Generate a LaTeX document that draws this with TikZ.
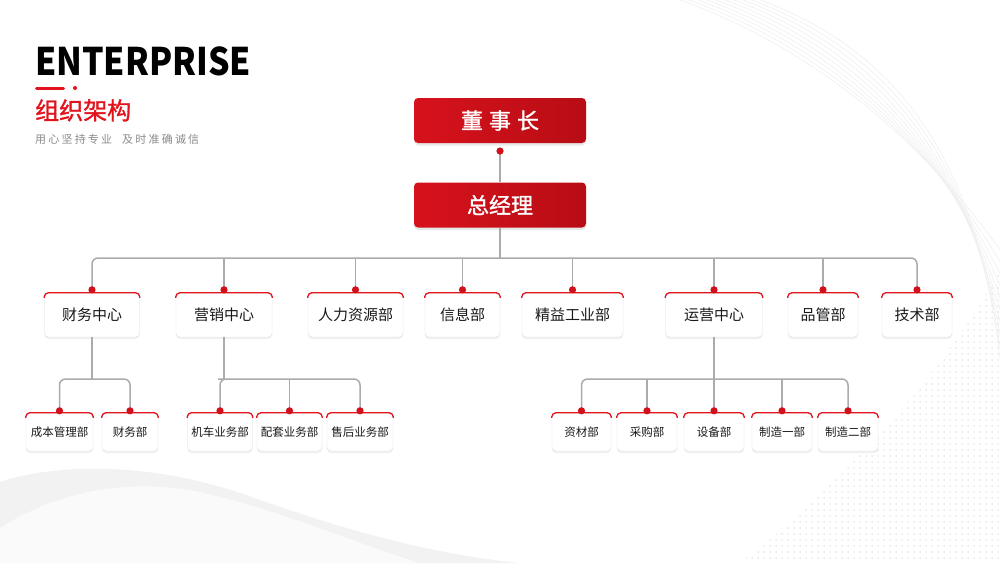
\documentclass[tikz,border=0pt]{standalone}
\usepackage{fontspec}
\setmainfont{Noto Sans CJK SC}
\newfontfamily\cjk{Noto Sans CJK SC}
\newfontfamily\cjkmed[FakeBold=1.2]{Noto Sans CJK SC}
\newfontfamily\cjkls[LetterSpace=20]{Noto Sans CJK SC}
\usetikzlibrary{shadows}
\definecolor{cred}{HTML}{D6121C}
\definecolor{cred2}{HTML}{B80D15}
\definecolor{tred}{HTML}{E1141D}
\definecolor{dred}{HTML}{D0101A}
\definecolor{lgray}{HTML}{ABABAB}
\definecolor{subg}{HTML}{8A8A8A}
\newcommand{\rtop}[1]{\draw[tred, line width=1.3pt, rounded corners=4pt] ([yshift=-5pt]#1.north west) -- (#1.north west) -- (#1.north east) -- ([yshift=-5pt]#1.north east);}
\newcommand{\rdot}[2]{\fill[dred] ([yshift=#2]#1.north) circle (3.6pt);}
\begin{document}
\begin{tikzpicture}[x=1pt,y=-1pt,
  conn/.style={draw=lgray, line width=1.5pt},
  topbox/.style={rounded corners=4pt, left color=cred, right color=cred2, minimum width=172pt, minimum height=45pt, text=white, inner sep=0,
    drop shadow={opacity=0.18, shadow xshift=0pt, shadow yshift=-2.5pt}},
  ubox/.style={rounded corners=4pt, fill=white, draw=black!10, line width=0.4pt, inner sep=0, text=black!90,
    drop shadow={opacity=0.12, shadow xshift=0pt, shadow yshift=-2pt}},
  lvtwo/.style={ubox, minimum height=44pt, font=\cjk\fontsize{15}{15}\selectfont},
  lvthree/.style={ubox, minimum height=38pt, font=\cjk\fontsize{11.5}{11.5}\selectfont}
]
\useasboundingbox (0,0) rectangle (1000,563);
\fill[white] (0,0) rectangle (1000,563);
% background decoration
\fill[black!5] (0,563) -- (0,482) .. controls (60,462) and (160,462) .. (260,500) .. controls (360,535) and (440,555) .. (520,563) -- cycle;
\fill[black!2] (0,563) -- (0,528) .. controls (60,490) and (130,478) .. (200,492) .. controls (280,510) and (360,545) .. (420,563) -- cycle;
\foreach \k in {0,...,9}{
  \draw[black!6, line width=0.6pt] (680+\k*9,0) .. controls (820+\k*8,50) and (930+\k*5,150) .. (1000,250+\k*12);
}
\begin{scope}
\clip (740,563) .. controls (860,470) and (950,360) .. (1000,270) -- (1000,563) -- cycle;
\foreach \i in {0,...,43}{
  \foreach \j in {0,...,49}{
    \fill[black!9] (740+\i*6,270+\j*6) circle (1pt);
  }
}
\end{scope}
% title
\node[anchor=base west, inner sep=0] (ent) at (35,75.5) {\scalebox{0.89}[1]{\fontsize{38}{38}\selectfont\bfseries ENTERPRISE}};
\draw[tred, line width=3pt, line cap=round] (36.5,88) -- (63.5,88);
\fill[tred] (75,88) circle (2pt);
\node[anchor=base west, inner sep=0, text=tred, font=\cjkmed\fontsize{24}{24}\selectfont] (ttl) at (35,119.5) {组织架构};
\node[anchor=base west, inner sep=0, text=subg, font=\cjkls\fontsize{11}{11}\selectfont] (sub) at (35,143.5) {用心坚持专业\hspace{10pt}及时准确诚信};
% top boxes
\node[topbox, font=\cjkmed\fontsize{22}{22}\selectfont] (boss) at (500,120.5) {董\hspace{6pt}事\hspace{6pt}长};
\node[topbox, font=\cjkmed\fontsize{22}{22}\selectfont] (gm) at (500,205) {总经理};
\coordinate (d0) at (500,151);
\draw[conn] (d0) -- (gm.north);
\fill[dred] (d0) circle (3.6pt);
% level 2
\node[lvtwo, minimum width=95pt] (fin) at (92,315) {财务中心};
\node[lvtwo, minimum width=96pt] (mkt) at (224,315) {营销中心};
\node[lvtwo, minimum width=95pt] (hr) at (355.5,315) {人力资源部};
\node[lvtwo, minimum width=75pt] (info) at (462.5,315) {信息部};
\node[lvtwo, minimum width=101pt] (lean) at (572.5,315) {精益工业部};
\node[lvtwo, minimum width=97pt] (ops) at (714,315) {运营中心};
\node[lvtwo, minimum width=70pt] (qc) at (823,315) {品管部};
\node[lvtwo, minimum width=70pt] (tech) at (917,315) {技术部};
% level 3
\node[lvthree, minimum width=67pt] (cb) at (59.5,432) {成本管理部};
\node[lvthree, minimum width=56pt] (cw) at (130,432) {财务部};
\node[lvthree, minimum width=65pt] (jc) at (220,432) {机车业务部};
\node[lvthree, minimum width=65pt] (pt) at (289.5,432) {配套业务部};
\node[lvthree, minimum width=66pt] (sh) at (360,432) {售后业务部};
\node[lvthree, minimum width=59pt] (zc) at (581.5,432) {资材部};
\node[lvthree, minimum width=60pt] (cg) at (647,432) {采购部};
\node[lvthree, minimum width=60pt] (sb) at (714,432) {设备部};
\node[lvthree, minimum width=60pt] (zy) at (782,432) {制造一部};
\node[lvthree, minimum width=60pt] (ze) at (848,432) {制造二部};
% connectors level 1
\coordinate (b1) at (500,258);
\draw[conn] (gm.south) -- (b1);
\draw[conn, rounded corners=6pt] (fin.north) |- (b1) -| (tech.north);
\foreach \n in {mkt,hr,info,lean,ops,qc}{\draw[conn] (\n.north) -- (\n.north |- b1);}
% connectors level 2 -> 3
\coordinate (b2) at (92,379);
\draw[conn] (fin.south) -- (b2);
\draw[conn, rounded corners=6pt] (cb.north) |- (b2) -| (cw.north);
\coordinate (b3) at (224,379);
\draw[conn] (mkt.south) -- (b3);
\draw[conn, rounded corners=6pt] (jc.north) |- (b3) -| (sh.north);
\draw[conn] (pt.north) -- (pt.north |- b3);
\coordinate (b4) at (714,379);
\draw[conn] (ops.south) -- (sb.north);
\draw[conn, rounded corners=6pt] (zc.north) |- (b4) -| (ze.north);
\foreach \n in {cg,zy}{\draw[conn] (\n.north) -- (\n.north |- b4);}
% red tops and dots
\foreach \n in {fin,mkt,hr,info,lean,ops,qc,tech}{\rtop{\n}\rdot{\n}{3pt}}
\foreach \n in {cb,cw,jc,pt,sh,zc,cg,sb,zy,ze}{\rtop{\n}\rdot{\n}{2pt}}
\end{tikzpicture}
\end{document}
